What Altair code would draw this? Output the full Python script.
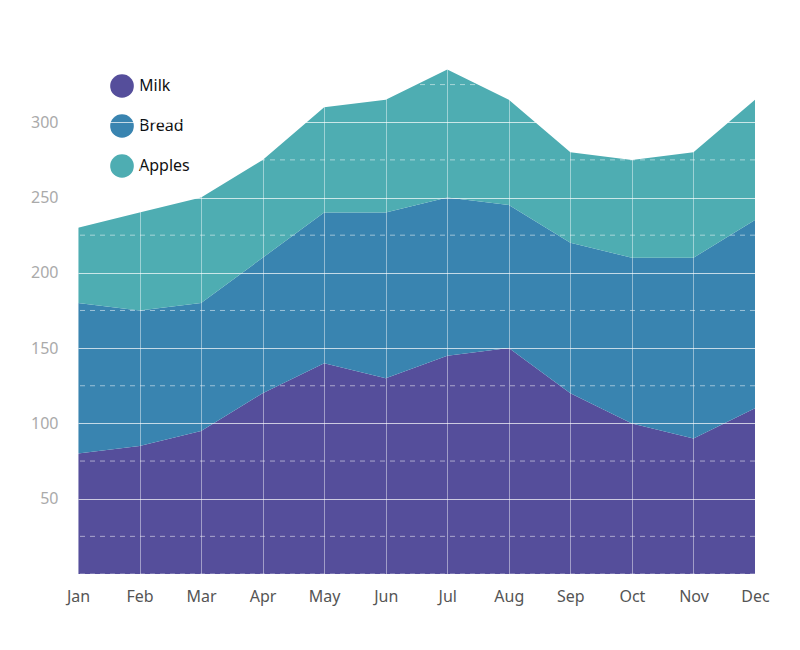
import altair as alt
import pandas as pd

months = ["Jan", "Feb", "Mar", "Apr", "May", "Jun", "Jul", "Aug", "Sep", "Oct", "Nov", "Dec"]
milk = [80, 85, 95, 120, 140, 130, 145, 150, 120, 100, 90, 110]
bread = [100, 90, 85, 90, 100, 110, 105, 95, 100, 110, 120, 125]
apples = [50, 65, 70, 65, 70, 75, 85, 70, 60, 65, 70, 80]

series = ["Milk", "Bread", "Apples"]
colors = ["#554e9b", "#3984b0", "#4eadb2"]
y_ticks = [50, 100, 150, 200, 250, 300]
dashed_grid = [0, 25, 75, 125, 175, 225, 275, 325]

rows = []
for i, (name, vals) in enumerate(zip(series, [milk, bread, apples])):
    for m, v in zip(months, vals):
        rows.append({"month": m, "product": name, "value": v, "idx": i})
df = pd.DataFrame(rows)

x = alt.X(
    "month:O",
    sort=months,
    title=None,
    scale=alt.Scale(padding=0),
    axis=alt.Axis(
        labelAngle=0, labelFontSize=16, labelColor="#555555", labelPadding=14,
        ticks=False, domain=False, grid=True, gridColor="white", gridOpacity=0.45,
        zindex=1,
    ),
)

areas = (
    alt.Chart(df)
    .mark_area(opacity=1)
    .encode(
        x=x,
        y=alt.Y(
            "value:Q",
            stack="zero",
            title=None,
            scale=alt.Scale(domain=[0, 340], nice=False),
            axis=alt.Axis(
                values=y_ticks, labelFontSize=16, labelColor="#aaaaaa", labelPadding=20,
                ticks=False, domain=False, grid=True, gridColor="white", gridOpacity=0.7,
                zindex=1,
            ),
        ),
        color=alt.Color(
            "product:N",
            scale=alt.Scale(domain=series, range=colors),
            legend=alt.Legend(
                title=None, orient="none", legendX=32, legendY=12,
                symbolType="circle", symbolSize=560, symbolStrokeWidth=0,
                labelFontSize=16, labelColor="#111111", rowPadding=16,
                labelOffset=5,
            ),
        ),
        order=alt.Order("idx:Q"),
    )
)

dashes = (
    alt.Chart(pd.DataFrame({"v": dashed_grid}))
    .mark_rule(color="white", strokeDash=[5, 5], opacity=0.5, strokeWidth=1)
    .encode(y="v:Q")
)

chart = (
    alt.layer(areas, dashes)
    .properties(
        width=677, height=512,
        autosize=alt.AutoSizeParams(type="none"),
        padding={"left": 70, "top": 54, "right": 30, "bottom": 60},
    )
    .configure(font="Noto Sans")
    .configure_view(strokeWidth=0, stroke=None)
)

chart.save("out.html", embed_options={"renderer": "svg", "actions": False})
